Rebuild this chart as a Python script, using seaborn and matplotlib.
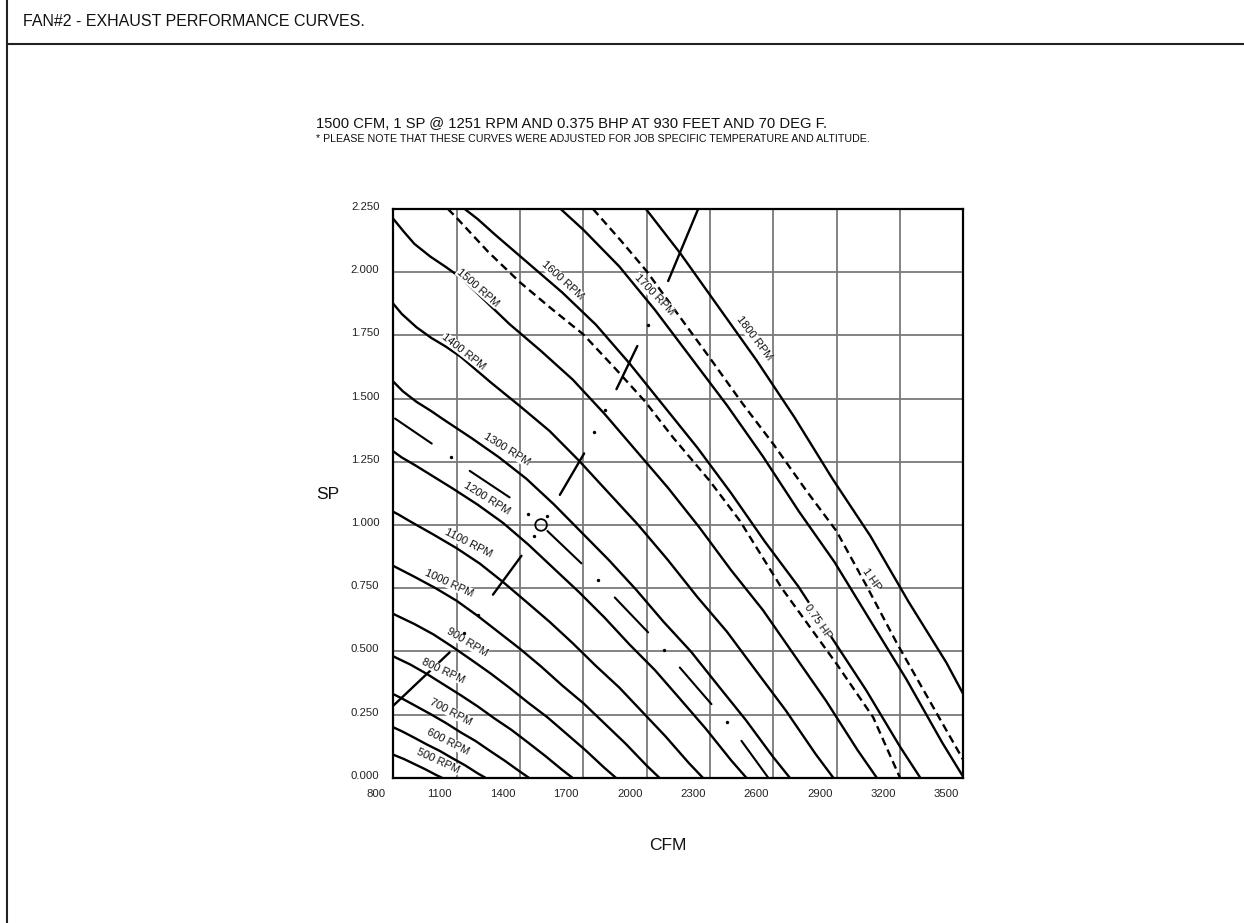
import matplotlib
matplotlib.use("Agg")
import matplotlib.pyplot as plt
import seaborn as sns
import pandas as pd
from matplotlib.lines import Line2D
from matplotlib.transforms import ScaledTranslation

# ---------------- data ----------------
title_text = "FAN#2 - EXHAUST PERFORMANCE CURVES."
subtitle_1 = "1500 CFM, 1 SP @ 1251 RPM AND 0.375 BHP AT 930 FEET AND 70 DEG F."
subtitle_2 = "* PLEASE NOTE THAT THESE CURVES WERE ADJUSTED FOR JOB SPECIFIC TEMPERATURE AND ALTITUDE."

x_ticks = [800, 1100, 1400, 1700, 2000, 2300, 2600, 2900, 3200, 3500]
y_ticks = [0.0, 0.25, 0.5, 0.75, 1.0, 1.25, 1.5, 1.75, 2.0, 2.25]

cfm_500 = [750, 800, 850, 900, 950, 1000, 1030]
sp_500 = [0.110, 0.091, 0.074, 0.054, 0.034, 0.012, 0.0]
cfm_600 = [780, 840, 900, 960, 1020, 1080, 1140, 1200, 1236]
sp_600 = [0.207, 0.184, 0.158, 0.131, 0.106, 0.077, 0.049, 0.017, 0.0]
cfm_700 = [770, 840, 910, 980, 1050, 1120, 1190, 1260, 1330, 1400, 1442]
sp_700 = [0.343, 0.314, 0.282, 0.250, 0.216, 0.179, 0.145, 0.105, 0.066, 0.024, 0.0]
cfm_800 = [760, 800, 880, 960, 1040, 1120, 1200, 1280, 1360, 1440, 1520, 1600, 1648]
sp_800 = [0.493, 0.480, 0.448, 0.410, 0.368, 0.326, 0.282, 0.234, 0.189, 0.138, 0.086, 0.031, 0.0]
cfm_900 = [765, 810, 900, 990, 1080, 1170, 1260, 1350, 1440, 1530, 1620, 1710, 1800, 1854]
sp_900 = [0.663, 0.644, 0.608, 0.567, 0.518, 0.466, 0.413, 0.356, 0.296, 0.239, 0.174, 0.109, 0.039, 0.0]
cfm_1000 = [750, 800, 900, 1000, 1100, 1200, 1300, 1400, 1500, 1600, 1700, 1800, 1900, 2000, 2060]
sp_1000 = [0.860, 0.838, 0.795, 0.750, 0.700, 0.640, 0.575, 0.510, 0.440, 0.365, 0.295, 0.215, 0.135, 0.048, 0.0]
cfm_1100 = [770, 825, 880, 990, 1100, 1210, 1320, 1430, 1540, 1650, 1760, 1870, 1980, 2090, 2200, 2266]
sp_1100 = [1.065, 1.041, 1.014, 0.962, 0.908, 0.847, 0.774, 0.696, 0.617, 0.532, 0.442, 0.357, 0.260, 0.163, 0.058, 0.0]
cfm_1200 = [780, 840, 900, 960, 1080, 1200, 1320, 1440, 1560, 1680, 1800, 1920, 2040, 2160, 2280, 2400, 2472]
sp_1200 = [1.303, 1.267, 1.238, 1.207, 1.145, 1.080, 1.008, 0.922, 0.828, 0.734, 0.634, 0.526, 0.425, 0.310, 0.194, 0.069, 0.0]
cfm_1300 = [780, 845, 910, 975, 1040, 1170, 1300, 1430, 1560, 1690, 1820, 1950, 2080, 2210, 2340, 2470, 2600, 2678]
sp_1300 = [1.584, 1.529, 1.487, 1.453, 1.416, 1.344, 1.268, 1.183, 1.082, 0.972, 0.862, 0.744, 0.617, 0.499, 0.363, 0.228, 0.081, 0.0]
cfm_1400 = [770, 800, 840, 910, 980, 1050, 1120, 1260, 1400, 1540, 1680, 1820, 1960, 2100, 2240, 2380, 2520, 2660, 2800, 2884]
sp_1400 = [1.901, 1.875, 1.835, 1.782, 1.740, 1.705, 1.665, 1.565, 1.470, 1.372, 1.254, 1.127, 1.000, 0.862, 0.715, 0.578, 0.421, 0.265, 0.094, 0.0]
cfm_1500 = [750, 800, 850, 900, 975, 1050, 1125, 1200, 1350, 1500, 1650, 1800, 1950, 2100, 2250, 2400, 2550, 2700, 2850, 3000, 3090]
sp_1500 = [2.270, 2.211, 2.160, 2.112, 2.062, 2.020, 1.975, 1.915, 1.795, 1.688, 1.575, 1.440, 1.294, 1.148, 0.990, 0.821, 0.664, 0.484, 0.304, 0.108, 0.0]
cfm_1600 = [1100, 1200, 1280, 1440, 1600, 1760, 1920, 2080, 2240, 2400, 2560, 2720, 2880, 3040, 3200, 3296]
sp_1600 = [2.275, 2.210, 2.150, 2.035, 1.920, 1.792, 1.638, 1.472, 1.306, 1.126, 0.934, 0.755, 0.550, 0.346, 0.123, 0.0]
cfm_1700 = [1496, 1530, 1700, 1870, 2040, 2210, 2380, 2550, 2720, 2890, 3060, 3230, 3400, 3502]
sp_1700 = [2.323, 2.298, 2.168, 2.023, 1.850, 1.662, 1.474, 1.272, 1.055, 0.853, 0.621, 0.390, 0.139, 0.0]
cfm_1800 = [1890, 1980, 2160, 2340, 2520, 2700, 2880, 3060, 3240, 3420, 3600]
sp_1800 = [2.349, 2.268, 2.074, 1.863, 1.652, 1.426, 1.183, 0.956, 0.697, 0.455, 0.175]

cfm_075hp = [1059, 1100, 1250, 1400, 1550, 1700, 1850, 1991, 2125, 2299, 2442, 2640, 2900, 3073, 3200]
sp_075hp = [2.250, 2.215, 2.080, 1.960, 1.855, 1.754, 1.620, 1.490, 1.346, 1.174, 1.016, 0.750, 0.450, 0.239, 0.0]
cfm_1hp = [1746, 1880, 2000, 2125, 2300, 2457, 2600, 2757, 2899, 3041, 3186, 3350, 3500]
sp_1hp = [2.250, 2.123, 2.004, 1.860, 1.660, 1.477, 1.320, 1.135, 0.976, 0.760, 0.531, 0.290, 0.070]

rpm_names = ["500 RPM", "600 RPM", "700 RPM", "800 RPM", "900 RPM", "1000 RPM", "1100 RPM",
             "1200 RPM", "1300 RPM", "1400 RPM", "1500 RPM", "1600 RPM", "1700 RPM", "1800 RPM"]
hp_names = ["0.75 HP", "1 HP"]

# short marks on the chart (start CFM, start SP, end CFM, end SP)
tick_cfm0 = [800, 1272, 1589, 1857, 2102]
tick_sp0 = [0.285, 0.724, 1.119, 1.537, 1.965]
tick_cfm1 = [1067, 1407, 1704, 1956, 2244]
tick_sp1 = [0.496, 0.878, 1.283, 1.708, 2.250]
seg_cfm0 = [808, 1162, 1530, 1849, 2157, 2449]
seg_sp0 = [1.421, 1.214, 0.976, 0.713, 0.436, 0.146]
seg_cfm1 = [982, 1351, 1691, 2007, 2307, 2576]
seg_sp1 = [1.322, 1.109, 0.848, 0.575, 0.291, 0.0]

dot_cfm = [1072, 1438, 1527, 1467, 1751, 1805, 1770, 2007, 1201, 1135, 2083, 2381]
dot_sp = [1.267, 1.045, 1.036, 0.957, 1.368, 1.454, 0.783, 1.791, 0.645, 0.571, 0.505, 0.221]

op_cfm = [1500]
op_sp = [1.0]

# ---------------- styling / layout ----------------
sns.set_theme(style="white")
plt.rcParams["font.family"] = ["Liberation Sans", "DejaVu Sans"]

fig = plt.figure(figsize=(12.44, 9.23), dpi=100)
ax = fig.add_axes([393.3 / 1244, 1 - 777.7 / 923, 570.0 / 1244, 568.7 / 923])

rpm_curves = [(cfm_500, sp_500), (cfm_600, sp_600), (cfm_700, sp_700), (cfm_800, sp_800),
              (cfm_900, sp_900), (cfm_1000, sp_1000), (cfm_1100, sp_1100), (cfm_1200, sp_1200),
              (cfm_1300, sp_1300), (cfm_1400, sp_1400), (cfm_1500, sp_1500), (cfm_1600, sp_1600),
              (cfm_1700, sp_1700), (cfm_1800, sp_1800)]
for cx, cy in rpm_curves:
    df = pd.DataFrame({"CFM": cx, "SP": cy})
    sns.lineplot(data=df, x="CFM", y="SP", sort=False, estimator=None, color="black",
                 lw=1.7, ax=ax, zorder=3)

for cx, cy in [(cfm_075hp, sp_075hp), (cfm_1hp, sp_1hp)]:
    df = pd.DataFrame({"CFM": cx, "SP": cy})
    sns.lineplot(data=df, x="CFM", y="SP", sort=False, estimator=None, color="black",
                 lw=1.7, ax=ax, zorder=3)
    ax.lines[-1].set_dashes([3.4, 2.0])

for i in range(len(tick_cfm0)):
    df = pd.DataFrame({"CFM": [tick_cfm0[i], tick_cfm1[i]], "SP": [tick_sp0[i], tick_sp1[i]]})
    sns.lineplot(data=df, x="CFM", y="SP", sort=False, estimator=None, color="black",
                 lw=1.7, ax=ax, zorder=3)
for i in range(len(seg_cfm0)):
    df = pd.DataFrame({"CFM": [seg_cfm0[i], seg_cfm1[i]], "SP": [seg_sp0[i], seg_sp1[i]]})
    sns.lineplot(data=df, x="CFM", y="SP", sort=False, estimator=None, color="black",
                 lw=1.5, ax=ax, zorder=3)

sns.scatterplot(x=dot_cfm, y=dot_sp, color="black", s=6, linewidth=0, ax=ax, zorder=4)
sns.scatterplot(x=op_cfm, y=op_sp, facecolor="none", edgecolor="black", s=70,
                linewidth=1.3, ax=ax, zorder=5)

# curve labels (positions in data coords, rotation in degrees)
rpm_label_pos = [(1013, 0.067, -25), (1061, 0.142, -27), (1072, 0.261, -28), (1037, 0.423, -25),
                 (1148, 0.534, -31), (1065, 0.769, -25), (1154, 0.927, -27), (1245, 1.105, -32),
                 (1336, 1.300, -32), (1134, 1.685, -38), (1201, 1.939, -41), (1600, 1.968, -42),
                 (2035, 1.912, -46), (2508, 1.738, -53)]
hp_label_pos = [(2809, 0.618, -55), (3065, 0.786, -55)]
for name, (lx, ly, rot) in zip(rpm_names + hp_names, rpm_label_pos + hp_label_pos):
    ax.text(lx, ly, name, fontsize=8, rotation=rot, rotation_mode="anchor",
            ha="center", va="center", zorder=4, color="#111111",
            bbox=dict(boxstyle="square,pad=0.03", fc="white", ec="none"))

ax.set_xlim(800, 3500)
ax.set_ylim(0, 2.25)
ax.set_xticks(x_ticks)
ax.set_yticks(y_ticks)
ax.set_xticklabels([str(v) for v in x_ticks])
ax.set_yticklabels([f"{v:.3f}" for v in y_ticks])
ax.tick_params(axis="both", length=0, labelsize=8.2, colors="#222222")
ax.tick_params(axis="x", pad=8)
ax.tick_params(axis="y", pad=10)
for lbl in ax.get_xticklabels():
    lbl.set_transform(lbl.get_transform() + ScaledTranslation(-0.17, 0, fig.dpi_scale_trans))
for lbl in ax.get_yticklabels():
    lbl.set_transform(lbl.get_transform() + ScaledTranslation(0, 0.03, fig.dpi_scale_trans))
ax.grid(True, color="#7a7a7a", lw=1.3, zorder=1)
ax.set_axisbelow(True)
for sp in ax.spines.values():
    sp.set_color("black")
    sp.set_linewidth(1.6)
    sp.set_zorder(6)
ax.set_xlabel("")
ax.set_ylabel("")

fig.text(668 / 1244, 1 - 845 / 923, "CFM", fontsize=12.5, ha="center", va="center", color="#111111")
fig.text(328 / 1244, 1 - 495 / 923, "SP", fontsize=12.5, ha="center", va="center", color="#111111")

fig.text(23 / 1244, 1 - 21 / 923, title_text, fontsize=11.5, ha="left", va="center", color="#111111")
fig.text(316 / 1244, 1 - 124 / 923, subtitle_1, fontsize=10.6, ha="left", va="center", color="#111111")
fig.text(316 / 1244, 1 - 139 / 923, subtitle_2, fontsize=7.7, ha="left", va="center", color="#111111")

# page frame
fig.add_artist(Line2D([7 / 1244, 7 / 1244], [0, 1], transform=fig.transFigure, color="#222222", lw=1.5))
fig.add_artist(Line2D([7 / 1244, 1], [1 - 44 / 923, 1 - 44 / 923], transform=fig.transFigure,
                      color="#222222", lw=1.5))

fig.savefig("out.png", dpi=100, facecolor="white")
